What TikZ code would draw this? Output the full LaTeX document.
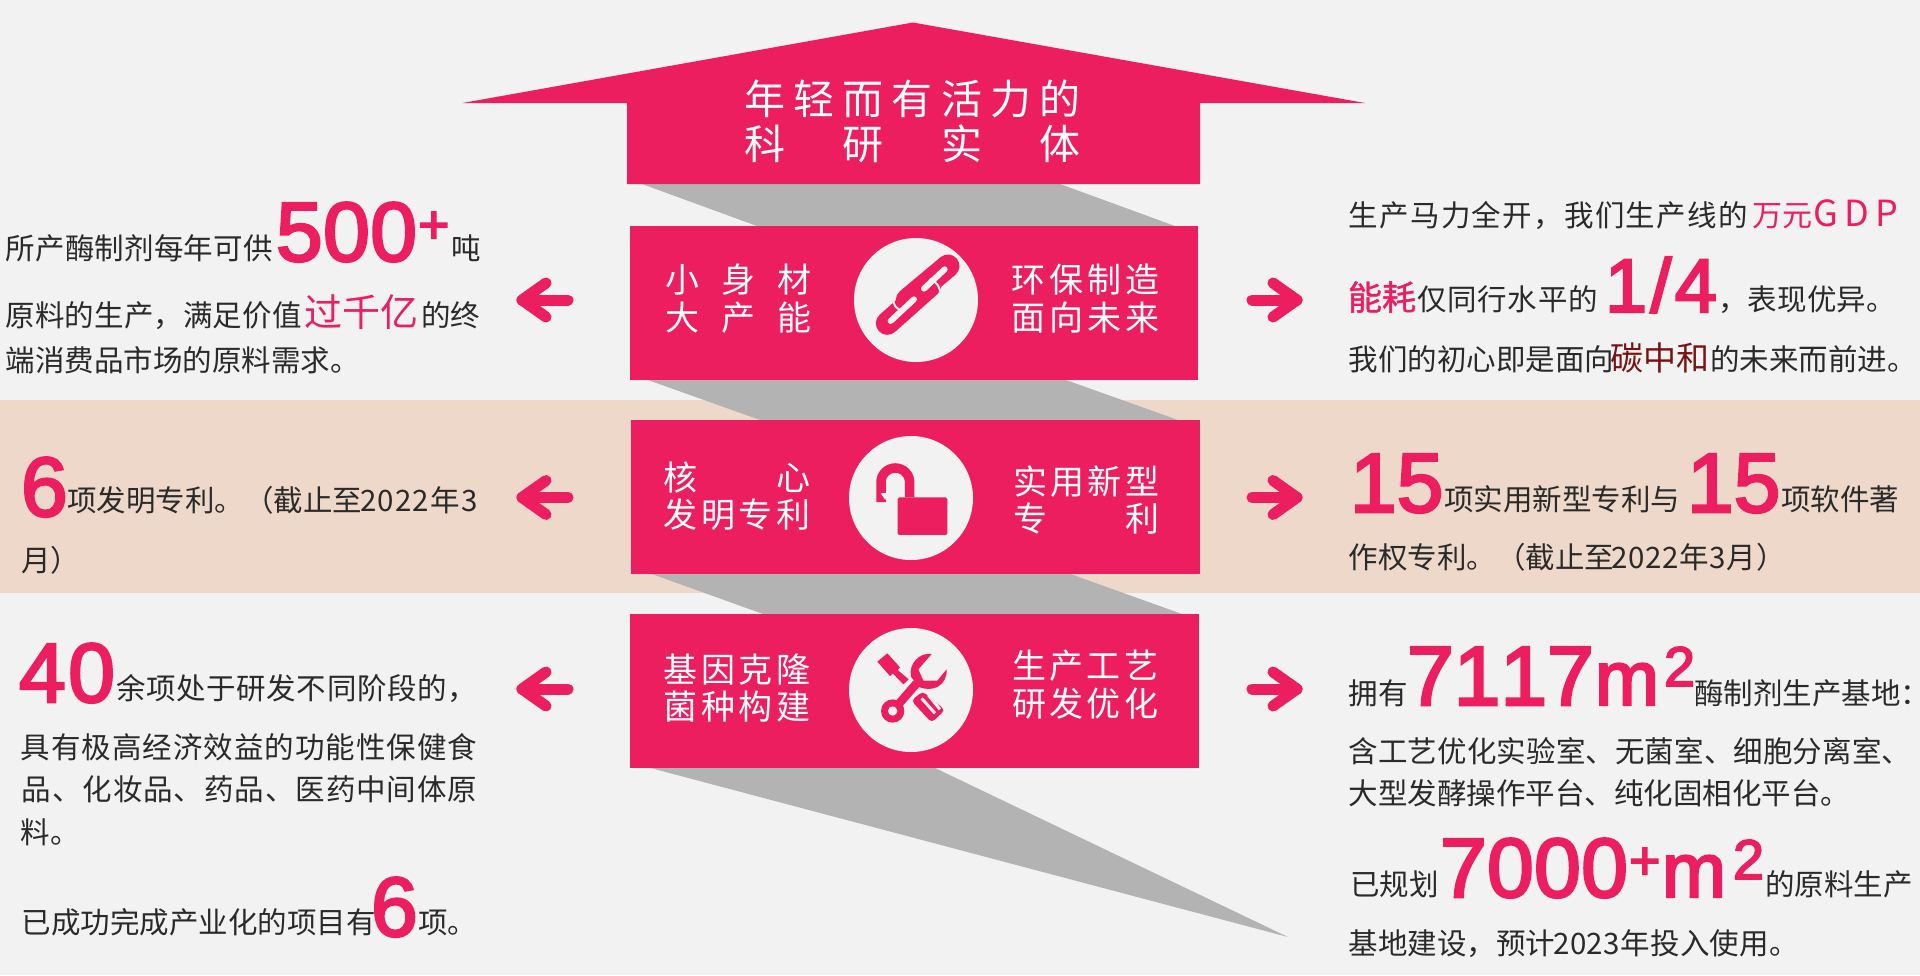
\documentclass[tikz,border=0pt]{standalone}
\usepackage{fontspec}
\newfontfamily\cjk{Noto Sans CJK SC}
\newfontfamily\cjkb{Noto Sans CJK SC}[FakeBold=1.2]
\newfontfamily\bignum{Liberation Sans}[FakeBold=3]
\definecolor{pagebg}{HTML}{F2F2F2}
\definecolor{bandbg}{HTML}{EED8CA}
\definecolor{pinkm}{HTML}{EC1E5F}
\definecolor{greyf}{HTML}{B3B3B3}
\definecolor{inkd}{HTML}{2A2A2A}
\definecolor{redd}{HTML}{7A1212}
\newcounter{runc}
\makeatletter
\newcommand\sprd[2]{\makebox[#1pt][s]{\let\sepx\relax\@tfor\chx:=#2\do{\sepx\chx\let\sepx\hfill}}}
\makeatother
% \run[colour]{x}{baseline}{size}{width}{text}
\newcommand\run[6][inkd]{\stepcounter{runc}\node[runtxt,text=#1] (r\arabic{runc}) at (#2,#3) {\fontsize{#4pt}{#4pt}\selectfont\cjk\sprd{#5}{#6}};}
\newcommand\runb[5]{\stepcounter{runc}\node[runtxt,text=pinkm] (r\arabic{runc}) at (#1,#2) {\fontsize{#3pt}{#3pt}\selectfont\cjkb\sprd{#4}{#5}};}
% \num{x}{baseline}{size}{width}{text}
\newcommand\num[5]{\stepcounter{runc}\node[runtxt,text=pinkm] (r\arabic{runc}) at (#1,#2) {\fontsize{#3pt}{#3pt}\selectfont\bignum\sprd{#4}{#5}};}
\newcommand\nnat[4]{\stepcounter{runc}\node[runtxt,text=pinkm] (r\arabic{runc}) at (#1,#2) {\fontsize{#3pt}{#3pt}\selectfont\bignum #4};}
\tikzset{
  runtxt/.style={anchor=base west,inner sep=0pt,outer sep=0pt},
  pinkfill/.style={fill=pinkm},
  greyfill/.style={fill=greyf},
  disc/.style={fill=pagebg},
  arrowline/.style={draw=pinkm,line width=11pt,line cap=round,line join=round},
  gap/.style={draw=pagebg,line cap=round},
}
\begin{document}
\begin{tikzpicture}[x=1pt,y=-1pt]
\useasboundingbox (0,0) rectangle (1920,975);
\fill[pagebg] (0,0) rectangle (1920,975);
\fill[bandbg] (0,400) rectangle (1920,593);
% grey ribbons
\fill[greyfill] (642,184) -- (1060,184) -- (1175,226) -- (757,226) -- cycle;
\fill[greyfill] (648,380) -- (1066,380) -- (1178,420) -- (760,420) -- cycle;
\fill[greyfill] (650.5,573.5) -- (1069,573.5) -- (1182,614) -- (763,614) -- cycle;
\fill[greyfill] (650.5,768) -- (935,768) -- (1288,937) -- cycle;
% house
\fill[pinkfill] (913,22.5) -- (1365,103) -- (1200,103) -- (1200,184) -- (627,184) -- (627,103) -- (462.5,103) -- cycle;
% boxes
\fill[pinkfill] (630,225.5) rectangle (1198,379.5);
\fill[pinkfill] (631,420) rectangle (1200,573.5);
\fill[pinkfill] (630,613.5) rectangle (1199,768);
% discs
\fill[disc] (916,300) circle (62);
\fill[disc] (911,498) circle (62);
\fill[disc] (911,690) circle (62);
% chain icon
\begin{scope}[shift={(850,240)},x=0.3333pt,y=-0.3333pt]
  \draw[pinkm,line width=23pt,line cap=round] (294,78) -- (172,180);
  \draw[pinkm,line width=23pt,line cap=round] (112,250) -- (240,136);
  \draw[gap,line width=2pt] (128,170) .. controls (128,195) and (140,210) .. (160,212);
  \draw[gap,line width=2pt] (240,118) .. controls (262,125) and (272,145) .. (270,162);
  \draw[gap,line width=6pt] (284,88) -- (222,146);
  \draw[gap,line width=6pt] (122,243) -- (192,178);
\end{scope}
% lock icon
\begin{scope}[shift={(850,440)},x=0.3333pt,y=-0.3333pt]
  \fill[pinkm,rounded corners=1.5pt] (143,172) rectangle (292,285);
  \draw[pinkm,line width=9.5pt] (93,186) -- (93,127) arc[start angle=180,end angle=360,radius=43] -- (179,172);
  \fill[pagebg] (92,160) -- (112,158) -- (106,180) -- cycle;
\end{scope}
% tools icon
\begin{scope}[shift={(850,630)},x=0.3333pt,y=-0.3333pt]
  \fill[pinkm] (82,95) -- (112,70) -- (150,112) -- (143,120) -- (176,148) -- (160,163) -- (128,130) -- (120,138) -- cycle;
  \fill[pinkm,rounded corners=4pt] (218,184) -- (285,240) -- (245,278) -- (184,212) -- cycle;
  \draw[pagebg,line width=3pt] (215,205) -- (255,250);
  \draw[pagebg,line width=3pt] (235,195) -- (270,238);
  \fill[pinkm] (245,72) .. controls (210,66) and (175,100) .. (183,140) -- (205,170) .. controls (250,190) and (292,165) .. (290,118) -- (262,152) -- (220,152) -- (205,118) -- cycle;
  \draw[pinkm,line width=8.5pt] (128,243) -- (200,160);
  \fill[pinkm] (128,243) circle (35);
  \fill[pagebg] (128,243) circle (14);
\end{scope}
% arrows
\foreach \ya in {300,497.5,689}{
  \draw[arrowline] (568,\ya) -- (522,\ya);
  \draw[arrowline] (546,\ya-17) -- (522,\ya) -- (546,\ya+17);
  \draw[arrowline] (1252,\ya) -- (1297,\ya);
  \draw[arrowline] (1273,\ya-17) -- (1297,\ya) -- (1273,\ya+17);
}
% title and box labels
\run[white]{744}{114}{41}{337}{年轻而有活力的}
\run[white]{744}{159}{41}{337}{科研实体}
\run[white]{665}{292}{34}{146}{小身材}
\run[white]{665}{330}{34}{146}{大产能}
\run[white]{1011}{292}{34}{148.5}{环保制造}
\run[white]{1011}{330}{34}{148.5}{面向未来}
\run[white]{663.5}{490}{34}{147}{核心}
\run[white]{663.5}{527}{34}{147}{发明专利}
\run[white]{1013}{494}{34}{146}{实用新型}
\run[white]{1013}{531}{34}{146}{专利}
\run[white]{663.5}{682}{34}{147}{基因克隆}
\run[white]{663.5}{719}{34}{147}{菌种构建}
\run[white]{1012}{678}{34}{146}{生产工艺}
\run[white]{1012}{716}{34}{146}{研发优化}
% left column
\run{5.7}{259.5}{29.5}{267}{所产酶制剂每年可供}
\num{276}{261}{84}{141}{500}
\nnat{418}{243}{54}{+}
\run{451.5}{259.5}{29.5}{28}{吨}
\run{5.7}{326}{29.5}{296}{原料的生产，满足价值}
\run[pinkm]{304}{326.5}{38}{114}{过千亿}
\run{421}{326}{29.5}{57}{的终}
\run{5.7}{371}{29.5}{349}{端消费品市场的原料需求。}
\num{21}{516}{84}{46}{6}
\run{67}{511}{29.5}{289}{项发明专利。（截止至}
\run{360}{511}{29.5}{117.6}{2022年3}
\run{21}{571}{29.5}{57.6}{月）}
\num{19}{702}{84}{96}{40}
\run{116.7}{699}{29.5}{360}{余项处于研发不同阶段的，}
\run{20.7}{758}{29.5}{456.6}{具有极高经济效益的功能性保健食}
\run{21.7}{800}{29.5}{455.6}{品、化妆品、药品、医药中间体原}
\run{20.7}{843}{29.5}{58.4}{料。}
\run{21.7}{933}{29.5}{346.6}{已成功完成产业化的项目有}
\num{371}{936}{84}{46}{6}
\run{418.3}{933}{29.5}{58.4}{项。}
% right column
\run{1348.7}{226}{29.5}{399}{生产马力全开，我们生产线的}
\run[pinkm]{1752}{226}{30}{60}{万元}
\run[pinkm]{1813}{226}{36}{85}{GDP}
\runb{1348}{310}{34}{66}{能耗}
\run{1417.6}{310}{29.5}{180}{仅同行水平的}
\num{1605}{312}{76}{112}{1/4}
\run{1718}{310}{29.5}{178}{，表现优异。}
\run{1348.7}{370}{29.5}{258.3}{我们的初心即是面向}
\run[redd]{1610}{370.5}{33}{97}{碳中和}
\run{1710}{370}{29.5}{205}{的未来而前进。}
\num{1350}{512}{84}{92}{15}
\run{1444.4}{510}{29.5}{236}{项实用新型专利与}
\num{1687}{512}{84}{93}{15}
\run{1781}{510}{29.5}{117}{项软件著}
\run{1348.7}{568}{29.5}{258.3}{作权专利。（截止至}
\run{1611}{568}{29.5}{175}{2022年3月）}
\run{1348.7}{704}{29.5}{55.3}{拥有}
\num{1407}{705}{84}{186}{7117}
\nnat{1595}{705}{77}{m}
\nnat{1664}{686}{56}{2}
\run{1694}{704}{29.5}{231}{酶制剂生产基地：}
\run{1348.7}{762}{29.5}{562.6}{含工艺优化实验室、无菌室、细胞分离室、}
\run{1348.7}{804}{29.5}{492}{大型发酵操作平台、纯化固相化平台。}
\run{1350}{895}{29.5}{84.8}{已规划}
\num{1440}{897}{84}{188}{7000}
\nnat{1629}{879}{54}{+}
\nnat{1662}{897}{77}{m}
\nnat{1733}{879}{56}{2}
\run{1765}{895}{29.5}{148}{的原料生产}
\run{1348.7}{954}{29.5}{201}{基地建设，预计}
\run{1553.5}{954}{29.5}{245.5}{2023年投入使用。}
\end{tikzpicture}
\end{document}
